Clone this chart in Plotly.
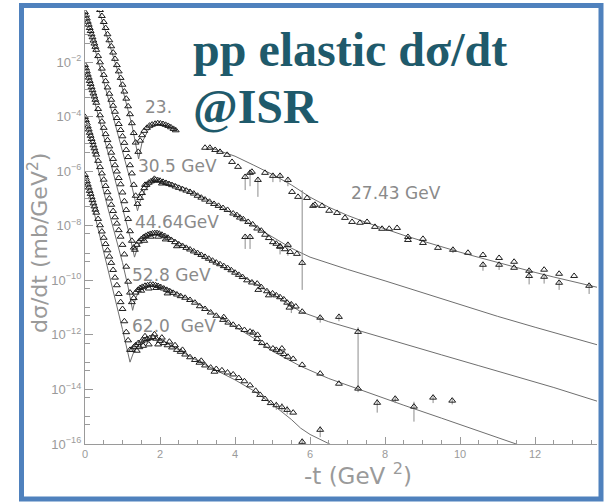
import numpy as np
import plotly.graph_objects as go

# ---------------- data (t in GeV^2, values are log10 of plotted dsigma/dt) ----------------
# 23 GeV (scale 1)
t23 = [0.40,0.45,0.50,0.55,0.60,0.65,0.70,0.75,0.80,0.85,0.90,0.95,1.00,1.05,1.10,1.15,1.20,1.25,1.30,1.35,1.42,
       1.47,1.52,1.58,1.65,1.72,1.79,1.87,1.94,2.01,2.08,2.15,2.22,2.29,2.36,2.42]
L23 = [-0.09,-0.31,-0.53,-0.75,-0.98,-1.20,-1.42,-1.65,-1.88,-2.11,-2.34,-2.58,-2.83,-3.08,-3.34,-3.62,-3.91,-4.24,-4.60,-4.95,-5.29,
       -4.88,-4.68,-4.52,-4.41,-4.33,-4.29,-4.26,-4.24,-4.25,-4.27,-4.30,-4.34,-4.39,-4.45,-4.50]
tf23 = [0.37,0.90,1.25,1.43,1.52,1.70,1.95,2.20,2.45]
Lf23 = [-0.09,-2.45,-4.30,-5.55,-4.95,-4.45,-4.28,-4.33,-4.50]

# 27.43 GeV (scale 1)
t27 = [3.20,3.33,3.47,3.60,3.79,3.92,4.08,4.27,4.40,4.45,4.61,4.80,5.01,5.20,5.41,5.52,5.68,5.92,6.08,6.13,
       6.32,6.51,6.72,6.93,7.12,7.33,7.52,7.73,7.92,8.11,8.32,8.61,8.61,9.01,9.01,9.41,9.81,10.21,10.61,10.61,
       11.04,11.04,11.44,11.44,11.84,11.84,12.24,12.24,12.64,12.64,13.04,13.44]
L27 = [-5.14,-5.14,-5.22,-5.29,-5.40,-5.66,-5.84,-6.21,-6.06,-6.02,-6.32,-6.06,-6.17,-6.17,-6.32,-6.76,-6.94,-6.98,-7.27,-7.23,
       -7.27,-7.45,-7.53,-7.71,-7.86,-7.89,-7.86,-8.04,-8.11,-8.11,-8.08,-8.41,-8.52,-8.48,-8.63,-8.81,-8.88,-8.99,-9.07,-9.43,
       -9.18,-9.43,-9.32,-9.54,-9.65,-9.84,-9.61,-9.87,-9.76,-10.09,-9.84,-10.20]
tf27 = [3.30,3.60,4.00,4.50,5.00,5.50,6.00,6.50,7.00,7.50,8.00,8.50,9.00,9.50,10.00,10.50,11.00,11.50,12.00,12.50,13.00,13.70]
Lf27 = [-5.12,-5.25,-5.45,-5.78,-6.12,-6.50,-6.95,-7.32,-7.62,-7.88,-8.12,-8.35,-8.56,-8.77,-8.97,-9.16,-9.35,-9.53,-9.71,-9.88,-10.05,-10.27]
e27_t  = [4.27,4.40,4.61,5.01,5.20,5.41,9.81,10.61,11.04,11.84,12.24,12.64,13.44]
e27_hi = [-6.10,-5.98,-6.22,-6.10,-6.10,-6.25,-8.82,-9.35,-9.35,-9.58,-9.80,-10.00,-10.12]
e27_lo = [-6.69,-6.55,-6.94,-6.40,-6.40,-6.55,-9.00,-9.65,-9.62,-10.15,-10.12,-10.35,-10.50]

# 30.5 GeV (scale 1e-2)
t30 = [0.0,0.025,0.05,0.075,0.10,0.125,0.15,0.175,0.20,0.225,0.25,0.275,0.30,
       0.35,0.40,0.45,0.50,0.55,0.60,0.65,0.70,0.75,0.80,0.85,0.90,0.95,1.00,1.05,1.10,1.15,1.20,1.25,1.30,1.35,1.40,
       1.47,1.52,1.58,1.64,1.70,1.76,1.82,1.88,1.94,2.00,
       2.08,2.16,2.24,2.32,2.41,2.50,2.60,2.70,2.80,2.90,3.00,3.10,3.20,
       3.32,3.44,3.56,3.68,3.80,3.95,4.05,4.13,4.22,4.35,4.47,4.59,4.70,4.80,4.90,5.01,5.10,5.20,5.33,5.47,5.65,
       4.27,4.40,5.20,5.41,5.79,1.60,1.85,2.05]
L30 = [-0.17,-0.29,-0.40,-0.52,-0.63,-0.75,-0.86,-0.98,-1.09,-1.21,-1.32,-1.44,-1.55,
       -1.78,-2.01,-2.24,-2.47,-2.70,-2.93,-3.16,-3.38,-3.60,-3.82,-4.05,-4.27,-4.49,-4.72,-4.96,-5.22,-5.48,-5.78,-6.08,-6.50,-6.90,-7.20,
       -6.98,-6.80,-6.62,-6.50,-6.42,-6.37,-6.34,-6.32,-6.33,-6.35,
       -6.39,-6.43,-6.47,-6.51,-6.56,-6.61,-6.66,-6.71,-6.76,-6.82,-6.90,-6.97,-7.04,
       -7.12,-7.20,-7.27,-7.35,-7.42,-7.55,-7.61,-7.70,-7.76,-7.86,-7.95,-8.10,-8.18,-8.33,-8.45,-8.60,-8.66,-8.75,-8.86,-8.96,-9.03,
       -8.41,-8.41,-8.77,-8.70,-9.36,-6.50,-6.28,-6.45]
tf30 = [0.0,0.5,1.0,1.25,1.40,1.48,1.60,1.80,2.00,2.30,2.70,3.10,3.50,4.00,4.50,5.00,5.50,6.00,7.00,8.00,9.00,10.00,11.00,12.00,13.00,13.70]
Lf30 = [-0.17,-2.75,-5.25,-6.55,-7.45,-7.05,-6.68,-6.43,-6.36,-6.42,-6.64,-6.92,-7.22,-7.60,-8.00,-8.42,-8.82,-9.15,-9.60,-10.02,-10.46,-10.90,-11.32,-11.72,-12.10,-12.38]
e30_t  = [4.27,4.40,5.20,5.41,5.79]
e30_hi = [-8.35,-8.35,-8.70,-8.62,-6.69]
e30_lo = [-8.85,-8.85,-9.05,-9.10,-10.35]

# 44.64 GeV (scale 1e-4)
t44 = [0.0,0.025,0.05,0.075,0.10,0.125,0.15,0.175,0.20,0.225,0.25,0.275,0.30,
       0.35,0.40,0.45,0.50,0.55,0.60,0.65,0.70,0.75,0.80,0.85,0.90,0.95,1.00,1.05,1.10,1.15,1.20,1.25,1.30,1.33,
       1.38,1.44,1.50,1.56,1.62,1.68,1.74,1.80,1.86,1.92,
       1.98,2.05,2.13,2.21,2.30,2.40,2.50,2.60,2.70,2.80,
       2.90,3.00,3.10,3.20,3.30,3.40,3.50,3.60,3.70,3.80,
       3.90,4.00,4.10,4.20,4.32,4.45,4.59,4.70,4.85,5.00,
       5.10,5.20,5.30,5.39,5.50,5.62,5.79,6.27,6.77,7.28,
       1.58,1.75,1.95,2.15,2.45,4.62,4.90,5.45]
L44 = [-2.11,-2.23,-2.34,-2.46,-2.57,-2.69,-2.80,-2.92,-3.03,-3.15,-3.26,-3.38,-3.49,
       -3.72,-3.95,-4.18,-4.41,-4.64,-4.86,-5.09,-5.32,-5.55,-5.78,-6.01,-6.25,-6.48,-6.78,-7.10,-7.42,-7.75,-8.20,-8.55,-8.80,-8.88,
       -8.70,-8.58,-8.49,-8.42,-8.37,-8.33,-8.30,-8.28,-8.27,-8.27,
       -8.29,-8.33,-8.38,-8.44,-8.52,-8.60,-8.68,-8.74,-8.81,-8.87,
       -8.94,-9.00,-9.07,-9.14,-9.21,-9.28,-9.35,-9.41,-9.48,-9.55,
       -9.63,-9.72,-9.80,-9.88,-10.00,-10.08,-10.12,-10.25,-10.40,-10.48,
       -10.55,-10.62,-10.70,-10.82,-10.88,-10.96,-11.15,-11.37,-11.34,-11.89,
       -8.55,-8.40,-8.40,-8.50,-8.75,-10.35,-10.55,-11.00]
tf44 = [0.0,0.6,1.0,1.20,1.32,1.40,1.50,1.65,1.85,2.05,2.30,2.70,3.00,3.50,4.00,4.50,5.00,5.50,5.75,6.50,7.50,8.50,9.50,10.50,11.50,12.50,13.70]
Lf44 = [-2.11,-5.25,-7.35,-8.40,-9.15,-8.80,-8.55,-8.37,-8.30,-8.32,-8.45,-8.78,-9.02,-9.38,-9.72,-10.08,-10.50,-10.92,-11.15,-11.52,-11.93,-12.33,-12.73,-13.13,-13.53,-13.93,-14.45]
e44_t  = [5.50,6.27,6.77,7.28]
e44_hi = [-10.80,-11.30,-11.28,-11.72]
e44_lo = [-11.20,-11.55,-11.50,-13.92]

# 52.8 GeV (scale 1e-6)
t52 = [0.0,0.025,0.05,0.075,0.10,0.125,0.15,0.175,0.20,0.225,0.25,0.275,0.30,
       0.35,0.40,0.45,0.50,0.55,0.60,0.65,0.70,0.75,0.80,0.85,0.90,0.95,1.00,1.05,1.10,1.15,1.20,1.25,
       1.30,1.35,1.41,1.47,1.53,1.60,1.67,1.74,1.81,1.88,
       1.95,2.02,2.10,2.18,2.26,2.35,2.45,2.55,2.67,2.80,
       2.93,3.06,3.20,3.35,3.50,3.68,3.82,3.95,4.10,4.25,
       4.40,4.48,4.59,4.72,4.85,5.01,5.10,5.20,5.30,5.41,
       5.55,5.79,6.27,6.77,7.28,7.79,8.27,8.77,9.28,9.79,
       1.50,1.70,1.90,2.20,3.70,4.60,5.25]
L52 = [-4.01,-4.13,-4.24,-4.36,-4.47,-4.59,-4.70,-4.82,-4.93,-5.05,-5.16,-5.28,-5.39,
       -5.62,-5.85,-6.08,-6.31,-6.54,-6.77,-7.00,-7.23,-7.46,-7.69,-7.92,-8.16,-8.40,-8.70,-9.05,-9.50,-10.05,-10.45,-10.80,
       -10.65,-10.45,-10.35,-10.28,-10.24,-10.20,-10.18,-10.16,-10.16,-10.18,
       -10.21,-10.25,-10.30,-10.35,-10.40,-10.46,-10.52,-10.58,-10.64,-10.72,
       -10.82,-10.95,-11.05,-11.18,-11.30,-11.45,-11.55,-11.63,-11.72,-11.82,
       -11.88,-11.92,-12.15,-12.30,-12.40,-12.50,-12.55,-12.62,-12.70,-12.80,
       -12.88,-13.10,-13.42,-13.79,-13.97,-14.49,-14.34,-14.63,-14.30,-14.41,
       -10.38,-10.30,-10.28,-10.48,-11.35,-12.00,-12.50]
tf52 = [0.0,0.6,1.0,1.15,1.27,1.35,1.45,1.60,1.80,2.00,2.30,2.70,3.00,3.50,4.00,4.50,5.00,5.75,6.50,7.50,8.50,9.50,10.50,11.60]
Lf52 = [-4.01,-7.30,-9.35,-10.25,-11.10,-10.65,-10.38,-10.22,-10.17,-10.20,-10.35,-10.62,-10.85,-11.28,-11.70,-12.12,-12.60,-13.15,-13.60,-14.10,-14.58,-15.05,-15.52,-16.05]
e52_t  = [7.28,7.79,8.27,8.77,9.28,9.79]
e52_hi = [-13.90,-14.35,-14.25,-14.45,-14.20,-14.32]
e52_lo = [-14.10,-14.85,-14.50,-15.18,-14.50,-14.55]

# 62.0 GeV (scale 1e-8)
t62 = [0.0,0.025,0.05,0.075,0.10,0.125,0.15,0.175,0.20,0.225,0.25,0.275,0.30,
       0.35,0.40,0.45,0.50,0.55,0.60,0.65,0.70,0.75,0.80,0.85,0.90,0.95,1.00,1.05,1.10,1.15,1.20,
       1.25,1.30,1.35,1.42,1.50,1.58,1.65,1.73,1.81,1.90,
       2.00,2.10,2.20,2.32,2.45,2.55,2.67,2.80,2.93,3.05,
       3.20,3.35,3.50,3.65,3.80,3.95,4.10,4.25,4.40,4.55,
       4.67,4.80,4.95,5.10,5.25,5.39,5.55,5.79,6.27,
       1.38,1.45,1.55,1.60,1.70,1.85,1.95,2.05,2.25,2.40,2.60,3.10,3.45]
L62 = [-6.14,-6.26,-6.37,-6.49,-6.60,-6.72,-6.83,-6.95,-7.06,-7.18,-7.29,-7.41,-7.52,
       -7.75,-7.98,-8.21,-8.44,-8.67,-8.90,-9.13,-9.36,-9.62,-9.90,-10.18,-10.50,-10.80,-11.05,-11.50,-11.90,-12.20,-12.55,
       -12.55,-12.45,-12.38,-12.30,-12.24,-12.20,-12.15,-12.12,-12.08,-12.14,
       -12.22,-12.30,-12.38,-12.46,-12.55,-12.62,-12.72,-12.82,-12.92,-13.02,
       -13.12,-13.20,-13.25,-13.30,-13.38,-13.45,-13.58,-13.70,-13.85,-14.05,
       -14.20,-14.35,-14.50,-14.58,-14.65,-14.75,-14.85,-15.92,-15.48,
       -12.58,-12.45,-12.40,-12.05,-12.35,-11.98,-12.35,-12.10,-12.25,-12.38,-12.55,-12.95,-13.35]
tf62 = [0.0,0.6,1.0,1.20,1.28,1.40,1.60,1.85,2.10,2.50,3.00,3.50,4.00,4.50,5.00,5.50,5.75,6.00,6.55]
Lf62 = [-6.14,-9.50,-11.80,-13.00,-12.70,-12.40,-12.20,-12.14,-12.24,-12.55,-12.95,-13.30,-13.65,-14.05,-14.55,-15.10,-15.42,-15.65,-16.02]
e62_t  = [5.10,5.25,5.39,5.79,6.27]
e62_hi = [-14.45,-14.50,-14.60,-15.80,-15.35]
e62_lo = [-14.75,-14.82,-14.92,-16.00,-15.75]

labels = ["23.", "30.5 GeV", "44.64GeV", "52.8 GeV", "62.0  GeV", "27.43 GeV"]
y_tick_exps = [-16, -14, -12, -10, -8, -6, -4, -2]
y_odd_exps = [-15, -13, -11, -9, -7, -5, -3, -1]
x_tick_vals = [0, 2, 4, 6, 8, 10, 12]

# ---------------- figure ----------------
W, H = 604, 502
ML, MR, MT, MB = 85, 7, 10, 58
PW, PH = W - ML - MR, H - MT - MB

def px(x):
    return (x - ML) / PW

def py(y):
    return (H - MB - y) / PH

def pw(v):
    return np.power(10.0, np.array(v, dtype=float))

fig = go.Figure()
line_col = "#6f6f6f"
mk = dict(symbol="triangle-up-open", size=6, color="#1e1e1e", line=dict(width=1, color="#1e1e1e"))

fits = [(tf23, Lf23), (tf27, Lf27), (tf30, Lf30), (tf44, Lf44), (tf52, Lf52), (tf62, Lf62)]
for tf, lf in fits:
    fig.add_trace(go.Scatter(x=tf, y=pw(lf), mode="lines", line=dict(color=line_col, width=1),
                             hoverinfo="skip", showlegend=False))

errs = [(e27_t, e27_lo, e27_hi), (e30_t, e30_lo, e30_hi), (e44_t, e44_lo, e44_hi),
        (e52_t, e52_lo, e52_hi), (e62_t, e62_lo, e62_hi)]
for et, elo, ehi in errs:
    xs, ys = [], []
    for t, lo, hi in zip(et, elo, ehi):
        xs += [t, t, None]
        ys += [10.0 ** lo, 10.0 ** hi, None]
    fig.add_trace(go.Scatter(x=xs, y=ys, mode="lines", line=dict(color="#8c8c8c", width=1),
                             hoverinfo="skip", showlegend=False))

for tt, ll in [(t23, L23), (t27, L27), (t30, L30), (t44, L44), (t52, L52), (t62, L62)]:
    fig.add_trace(go.Scatter(x=tt, y=pw(ll), mode="markers", marker=mk, showlegend=False))

gray = "#9a9a9a"
minor_y = [10.0 ** e for e in y_odd_exps] + [5 * 10.0 ** e for e in range(-17, 0)]
fig.update_layout(
    width=W, height=H, margin=dict(l=ML, r=MR, t=MT, b=MB, autoexpand=False),
    paper_bgcolor="white", plot_bgcolor="white", showlegend=False,
    xaxis=dict(range=[0, 13.65], showgrid=False, zeroline=False, showline=True, linecolor=gray, linewidth=1.3,
               ticks="inside", ticklen=7, tickwidth=1, tickcolor=gray, tickvals=x_tick_vals,
               ticktext=[str(v) for v in x_tick_vals],
               tickfont=dict(family="Liberation Sans", size=11, color=gray),
               minor=dict(tickvals=[v / 2 for v in range(1, 28)], ticklen=4, tickcolor=gray, ticks="inside")),
    yaxis=dict(type="log", range=[-16, -0.09], showgrid=False, zeroline=False, showline=True, linecolor=gray,
               linewidth=1.3, ticks="inside", ticklen=8, tickwidth=1, tickcolor=gray,
               tickvals=[10.0 ** e for e in y_tick_exps],
               ticktext=["10<sup>\u2212%d</sup>" % (-e) for e in y_tick_exps],
               tickfont=dict(family="Liberation Sans", size=13, color=gray),
               minor=dict(tickvals=minor_y, ticklen=5, tickcolor=gray, ticks="inside")),
)

lab_font = dict(family="DejaVu Sans", size=17, color="#8a8a8a")
lab_pos = [(143, 107), (136, 166), (133, 222), (130, 275), (130, 326), (349, 193)]
for txt, (lx, ly) in zip(labels, lab_pos):
    fig.add_annotation(x=px(lx), y=py(ly), xref="paper", yref="paper", text=txt, showarrow=False,
                       xanchor="left", yanchor="middle", font=lab_font)

fig.add_annotation(x=px(38), y=py(243), xref="paper", yref="paper", text="d\u03c3/dt (mb/GeV<sup>2</sup>)",
                   textangle=-90, showarrow=False, xanchor="center", yanchor="middle",
                   font=dict(family="DejaVu Sans", size=22, color=gray))
fig.add_annotation(x=px(358), y=py(474), xref="paper", yref="paper", text="-t (GeV <sup>2</sup>)",
                   showarrow=False, xanchor="center", yanchor="middle",
                   font=dict(family="DejaVu Sans", size=23, color=gray))

title_font = dict(family="Liberation Serif", size=48, color="#1f5a6b")
fig.add_annotation(x=px(191), y=py(49), xref="paper", yref="paper", text="<b>pp elastic d\u03c3/dt</b>",
                   showarrow=False, xanchor="left", yanchor="middle", font=title_font)
fig.add_annotation(x=px(191), y=py(107), xref="paper", yref="paper", text="<b>@ISR</b>",
                   showarrow=False, xanchor="left", yanchor="middle", font=title_font)

fig.add_shape(type="rect", xref="paper", yref="paper", x0=px(21.5), x1=px(601), y0=py(499), y1=py(5.5),
              line=dict(color="#4f81bd", width=5), fillcolor="rgba(0,0,0,0)", layer="above")

fig.write_html("out.html")
